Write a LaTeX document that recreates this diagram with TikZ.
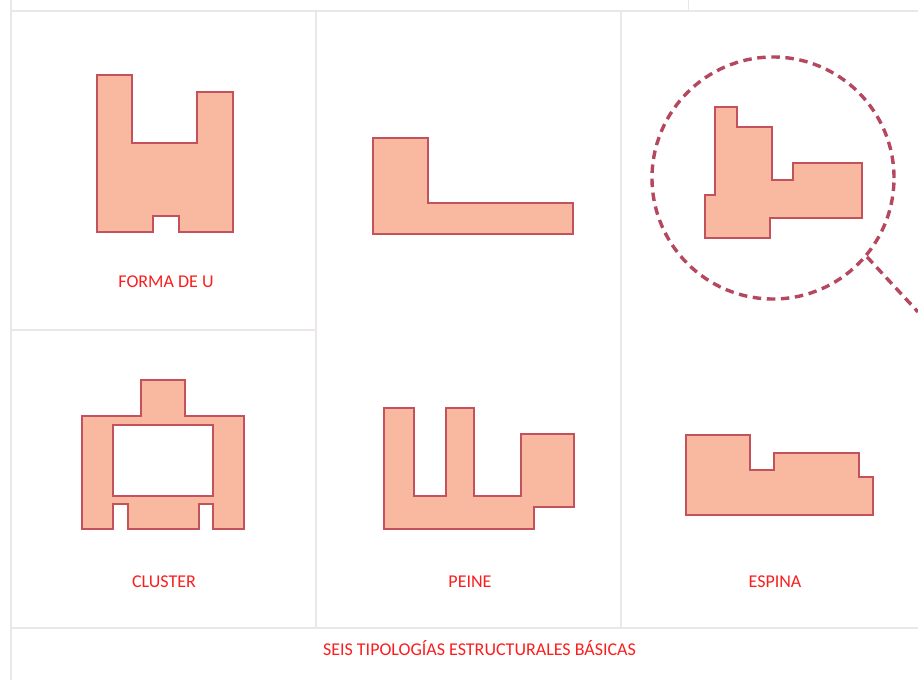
\documentclass[tikz,border=0pt]{standalone}
\usepackage{fontspec}
\setmainfont{Carlito}
\definecolor{gridline}{HTML}{EBE7E7}
\definecolor{shapefill}{HTML}{F9B9A0}
\definecolor{shapeedge}{HTML}{C4525C}
\definecolor{circleedge}{HTML}{B5485F}
\definecolor{labelred}{HTML}{FA1E1E}
\tikzset{
  gridrule/.style={draw=gridline,line width=1.8pt},
  plan/.style={draw=shapeedge,fill=shapefill,line width=2.1pt,line join=miter},
  dashring/.style={draw=circleedge,line width=3.4pt,dash pattern=on 8.5pt off 5.6pt},
  caption/.style={text=labelred,font=\fontsize{18}{21}\selectfont,inner sep=0pt,anchor=center}
}
\begin{document}
\begin{tikzpicture}[x=1pt,y=-1pt]
\useasboundingbox (0,0) rectangle (918,680);
\fill[white] (0,0) rectangle (918,680);
% grid
\draw[gridrule] (11,0) -- (11,680);
\draw[gridrule] (11,11) -- (918,11);
\draw[gridrule] (11,628) -- (918,628);
\draw[gridrule] (11,330) -- (316,330);
\draw[gridrule] (316,11) -- (316,628);
\draw[gridrule] (621,11) -- (621,628);
\draw[draw=gridline,line width=1pt] (688,0) -- (688,11);
% FORMA DE U
\draw[plan] (97,75) -- (132,75) -- (132,143) -- (197,143) -- (197,92) -- (233,92) -- (233,232) -- (179,232) -- (179,216) -- (153,216) -- (153,232) -- (97,232) -- cycle;
% L
\draw[plan] (373,138) -- (428,138) -- (428,203) -- (573,203) -- (573,234) -- (373,234) -- cycle;
% circled
\draw[plan] (715,107) -- (737,107) -- (737,127) -- (772,127) -- (772,180) -- (793,180) -- (793,163) -- (862,163) -- (862,218) -- (770,218) -- (770,238) -- (705,238) -- (705,195) -- (715,195) -- cycle;
\node[circle,minimum size=242pt,inner sep=0pt,dashring] (ring) at (773,178) {};
\coordinate (ringend) at (918,312);
\draw[dashring] (ring.-40) -- (ringend);
% CLUSTER
\draw[plan,even odd rule] (141,380) -- (185,380) -- (185,416) -- (244,416) -- (244,529) -- (213,529) -- (213,504) -- (199,504) -- (199,529) -- (128,529) -- (128,504) -- (113,504) -- (113,529) -- (82,529) -- (82,416) -- (141,416) -- cycle
 (113,425) rectangle (213,496);
% PEINE
\draw[plan] (384,408) -- (414,408) -- (414,496) -- (446,496) -- (446,408) -- (474,408) -- (474,496) -- (521,496) -- (521,434) -- (574,434) -- (574,507) -- (534,507) -- (534,529) -- (384,529) -- cycle;
% ESPINA
\draw[plan] (686,435) -- (750,435) -- (750,470) -- (774,470) -- (774,453) -- (859,453) -- (859,477) -- (873,477) -- (873,515) -- (686,515) -- cycle;
% labels
\node[caption] (forma) at (166,282) {FORMA DE U};
\node[caption] (cluster) at (164,582) {CLUSTER};
\node[caption] (peine) at (470,582) {PEINE};
\node[caption] (espina) at (775,582) {ESPINA};
\node[caption] (titulo) at (479.5,648) {SEIS TIPOLOGÍAS ESTRUCTURALES BÁSICAS};
\end{tikzpicture}
\end{document}
